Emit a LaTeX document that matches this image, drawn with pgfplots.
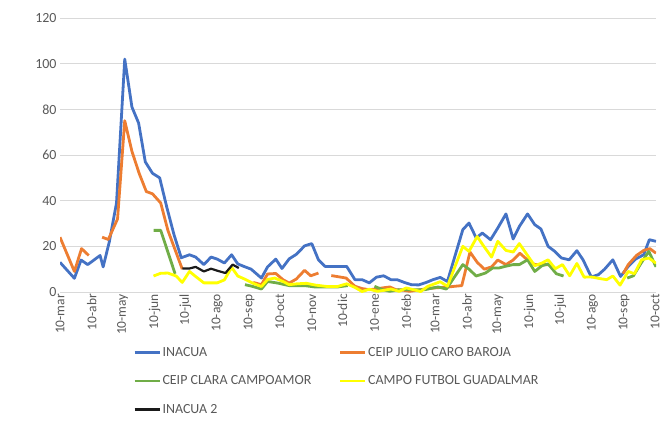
\documentclass[border=0pt]{standalone}
\usepackage{pgfplots}
\pgfplotsset{compat=1.18}
\usepackage{fontspec}
\setmainfont{Carlito}
\definecolor{cBlue}{HTML}{4472C4}
\definecolor{cOrange}{HTML}{ED7D31}
\definecolor{cGreen}{HTML}{70AD47}
\definecolor{cYellow}{HTML}{FFFF00}
\definecolor{cBlack}{HTML}{1A1A1A}
\definecolor{cText}{HTML}{595959}
\definecolor{cGrid}{HTML}{D9D9D9}
\begin{document}
\begin{tikzpicture}
\useasboundingbox (-60bp,-134bp) rectangle (606bp,292bp);
\begin{axis}[
  at={(0bp,0bp)}, anchor=south west,
  scale only axis, width=596bp, height=274bp,
  xmin=0, xmax=580, ymin=0, ymax=120,
  ytick={0,20,...,120},
  xtick={0,31,61,92,122,153,184,214,245,275,306,337,365,396,426,457,487,518,549,579},
  xticklabels={10-mar,10-abr,10-may,10-jun,10-jul,10-ago,10-sep,10-oct,10-nov,10-dic,10-ene,10-feb,10-mar,10-abr,10-may,10-jun,10-jul,10-ago,10-sep,10-oct},
  x tick label style={rotate=90, anchor=east, font=\fontsize{13.5}{15}\selectfont, text=cText, inner sep=2bp},
  y tick label style={font=\fontsize{14}{16}\selectfont, text=cText},
  /pgf/number format/assume math mode=true,
  major tick length=0pt,
  axis line style={draw=none},
  ymajorgrids, grid style={cGrid, line width=0.9bp},
  unbounded coords=jump,
  every axis plot/.append style={line width=2.8bp, line join=round},
  legend columns=2,
  legend cell align=left,
  legend image code/.code={\draw[#1] (0bp,0bp) -- (25bp,0bp);},
  legend style={at={(0.1225,-0.195)}, anchor=north west, draw=none, fill=none,
    inner sep=0pt, row sep=15bp,
    font=\fontsize{14}{16}\selectfont, text=cText,
    nodes={inner sep=1.5bp},
    /tikz/every even column/.append style={column sep=26bp}},
]
\addplot[cBlue] coordinates {
(0,13) (14,6) (20.5,14) (27,12) (33,14) (39,16) (42,11) (48,22) (55,39) (63,102) (70,81) (76.5,74) (83,57) (90,52) (97,50) (104,37) (111,25) (118,15) (126,16.3) (132,15.3) (140,12) (147,15.3) (153,14.4) (160,12.7) (167,16.3) (173,12.3) (179,11.2) (186,10) (196,6.1) (202,11) (210,14.4) (216,10.3) (223,14.5) (230,16.5) (238,20.2) (245,21.2) (251.5,14.1) (258,11.2) (268,11.2) (279,11.2) (287,5.4) (294,5.4) (301,4) (308,6.5) (315,7.1) (322,5.4) (328,5.4) (335,4.2) (342,3.2) (349,3.1) (356.5,4.2) (363,5.4) (370,6.4) (377,4.6) (392,27.3) (398,30.2) (405,23.7) (411,25.8) (419,22.9) (426,28) (434,34.2) (441,23.2) (447,28.7) (455,34.2) (462,29.5) (468,27.6) (475,20) (481.5,17.8) (488,14.9) (495.5,14.1) (503,18.1) (509,14.1) (517,6.6) (524,7.6) (530,10) (538,14.1) (545.5,6.8) (553,11.2) (560,14.4) (568,16.3) (573.5,22.9) (580,22.2)
};
\addlegendentry{INACUA}
\addplot[cOrange] coordinates {
(0,24) (14,9) (21,19) (28,16) (34,nan) (41,24) (47,23) (56,32) (63,75) (70,61.6) (77,52) (84,44) (90,43) (98,39) (105,27) (119,10) (150,nan) (188,4.2) (196,3.2) (202,7.9) (210,8.1) (217,5.4) (223,3.9) (230,5.7) (238,9.5) (244,7.1) (251.5,8.3) (258,nan) (264,7.2) (278.5,6.1) (287,2.5) (294,1.5) (301,1) (307,1.3) (314,1.8) (321,2.2) (327,1) (334,0.8) (340,0.3) (348,0.8) (355,1.3) (365,1.8) (378,2.2) (384,2.5) (391,2.8) (399,17.5) (406,13) (413,10) (420,11) (426,14) (434,12) (441,14) (447.5,17) (455,14) (462,12) (469,12) (475,12) (510,nan) (548,8) (553,12) (561,16) (568,18.2) (574,19) (580,17)
};
\addlegendentry{CEIP JULIO CARO BAROJA}
\addplot[cGreen] coordinates {
(91,27) (98,27) (112,8) (150,nan) (180,3.2) (187,2.5) (196,1.3) (202,4.6) (212,3.9) (223,2.8) (238,2.8) (248,2.2) (259,2.2) (270,2.2) (280,2.8) (293,nan) (306,2.5) (314,1) (321,0.3) (330,1) (345,1) (355,1) (363,1.8) (368,2.2) (376,1.3) (392,12) (398,10) (405,7) (414,8.3) (421,10.5) (427,10.5) (433,11.2) (441,12) (447,12) (455,14.1) (462,9) (469,11.5) (475,12.3) (483,8) (490,7) (520,nan) (552,6.1) (558,7.1) (566,13) (573,17.8) (580,11)
};
\addlegendentry{CEIP CLARA CAMPOAMOR}
\addplot[cYellow] coordinates {
(91,7) (98,8.2) (105,8.3) (113,7) (119,4.2) (126,9) (132,6.8) (140,4) (153,4) (160,5.3) (167,10.8) (173,7) (179,5.8) (188,3.8) (196,2.4) (202,5.5) (209,6.1) (217,4.6) (223,3.2) (231,3.6) (240,3.8) (249,3) (260,2.4) (270,2.4) (279,3.6) (287,2) (294,0.2) (301,1.2) (309,0.3) (316,0.8) (322,1.3) (330,0.3) (337,1.8) (344,1) (351,0.2) (358,2.5) (370,4.5) (377,2.5) (392,20) (398,17.8) (406,24.3) (412,20.3) (420,15.3) (426,22.2) (434,18.2) (441,17.5) (447,21.2) (455,16) (462,11.5) (469,12.7) (475,14.1) (482,10.2) (489,12) (496,7.1) (503,12.5) (510,6.5) (517,6.6) (525,5.9) (532,5.4) (538,7) (545,3) (553,9) (559,8) (566,14.1) (573,14.9) (580,12.6)
};
\addlegendentry{CAMPO FUTBOL GUADALMAR}
\addplot[cBlack, line width=2.2bp] coordinates {
(119,10.3) (126,10.3) (132,11) (140,9) (147,10.2) (154,9.2) (161,8.3) (168,12) (174,10.5)
};
\addlegendentry{INACUA 2}
\end{axis}
\end{tikzpicture}
\end{document}
